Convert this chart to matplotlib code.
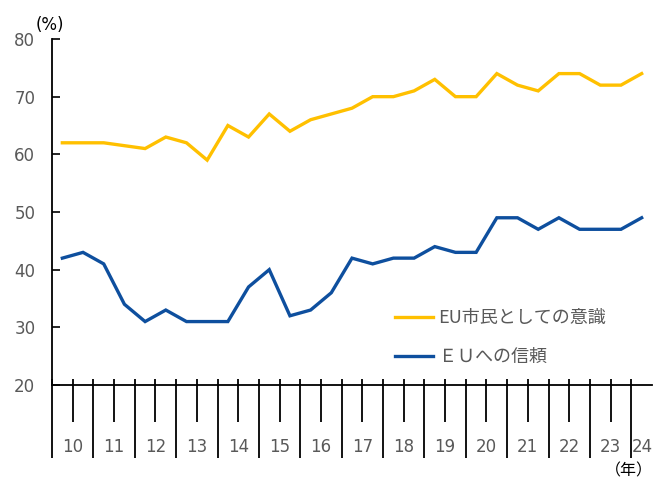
import matplotlib
matplotlib.use("Agg")
import matplotlib.pyplot as plt
import numpy as np

years = ["10", "11", "12", "13", "14", "15", "16", "17", "18", "19", "20", "21", "22", "23", "24"]
citizen = [62, 62, 62, 61.5, 61, 63, 62, 59, 65, 63, 67, 64, 66, 67, 68, 70, 70, 71, 73, 70, 70,
           74, 72, 71, 74, 74, 72, 72, 74]
trust = [42, 43, 41, 34, 31, 33, 31, 31, 31, 37, 40, 32, 33, 36, 42, 41, 42, 42, 44, 43, 43,
         49, 49, 47, 49, 47, 47, 47, 49]
label_citizen = "EU市民としての意識"
label_trust = "ＥＵへの信頼"

plt.rcParams['font.family'] = ['DejaVu Sans', 'Noto Sans CJK JP']
gray = "#595959"
yellow = "#FFC000"
blue = "#0E4F9E"

W, H = 653, 480
fig = plt.figure(figsize=(W / 100, H / 100), dpi=100)
ax = fig.add_axes([52 / W, (H - 385) / H, 600 / W, 346 / H])

x = np.arange(len(citizen)) * 0.5 + 0.25
ax.plot(x, citizen, color=yellow, lw=2.4, label=label_citizen, solid_joinstyle='miter')
ax.plot(x, trust, color=blue, lw=2.4, label=label_trust, solid_joinstyle='miter')

ax.set_xlim(0, 14.5)
ax.set_ylim(20, 80)
ax.set_yticks([20, 30, 40, 50, 60, 70, 80])
ax.tick_params(axis='y', direction='in', length=6, width=1.2, pad=12, labelsize=12, labelcolor=gray)
ax.set_xticks([])
for s in ['top', 'right']:
    ax.spines[s].set_visible(False)
ax.spines['left'].set_linewidth(1.3)
ax.spines['bottom'].set_linewidth(1.3)

# x-axis custom ticks
upp = 60 / 346  # data units per pixel
top_y = 20 + 6 * upp
for i, yr in enumerate(years):
    ax.plot([i, i], [top_y, 20 - 73 * upp], color='black', lw=1.3, clip_on=False, solid_capstyle='butt')
    c = i + 0.5 if i < len(years) - 1 else i + 0.27
    if i < len(years) - 1:
        ax.plot([c, c], [top_y, 20 - 37 * upp], color='black', lw=1.3, clip_on=False, solid_capstyle='butt')
    ax.text(c, 20 - 62 * upp, yr, ha='center', va='center', fontsize=12, color=gray)

fig.text(50 / W, 1 - 25 / H, "(%)", ha='center', va='center', fontsize=12, color='black')
fig.text(629 / W, 1 - 471 / H, "（年）", ha='center', va='center', fontsize=11.5, color='black',
         family=['Noto Sans CJK JP'])

leg = ax.legend(loc='upper left', bbox_to_anchor=(379 / W, 1 - 293 / H), bbox_transform=fig.transFigure,
                frameon=False, fontsize=13, handlelength=2.1, handletextpad=0.3, labelspacing=1.15,
                prop={'family': ['Noto Sans CJK JP'], 'size': 13})
for t in leg.get_texts():
    t.set_color(gray)

fig.savefig("out.png", dpi=100)
